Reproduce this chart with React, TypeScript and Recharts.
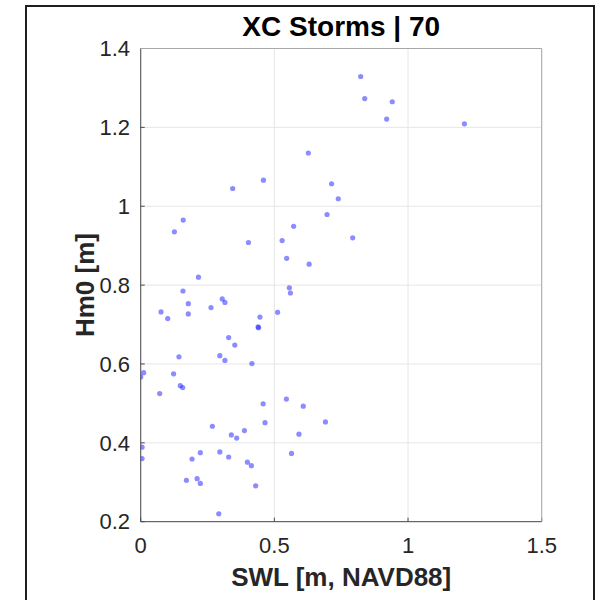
import { CartesianGrid, Scatter, ScatterChart, XAxis, YAxis } from 'recharts'

// storm water level vs significant wave height, 70 storms
const swl = [
  0.627, 0.344, 0.459, 0.714, 0.739, 0.697, 0.572, 0.159, 0.126, 0.529,
  0.823, 0.838, 0.941, 0.92, 1.211, 0.793, 0.403, 0.546, 0.63, 0.216,
  0.158, 0.556, 0.56, 0.178, 0.305, 0.315, 0.263, 0.076, 0.101, 0.178,
  0.512, 0.446, 0.439, 0.441, 0.329, 0.352, 0.143, 0.296, 0.315, 0.416,
  0.011, 0.0, 0.123, 0.148, 0.157, 0.071, 0.545, 0.458, 0.608, 0.268,
  0.465, 0.691, 0.388, 0.339, 0.359, 0.592, 0.005, 0.005, 0.223, 0.296,
  0.192, 0.329, 0.564, 0.399, 0.414, 0.171, 0.211, 0.223, 0.43, 0.292,
]
const hm0 = [
  1.135, 1.045, 1.066, 1.057, 1.019, 0.979, 0.949, 0.965, 0.935, 0.913,
  1.329, 1.273, 1.265, 1.221, 1.209, 0.92, 0.908, 0.868, 0.853, 0.82,
  0.785, 0.793, 0.78, 0.753, 0.765, 0.756, 0.743, 0.732, 0.715, 0.727,
  0.731, 0.719, 0.694, 0.692, 0.667, 0.648, 0.618, 0.621, 0.609, 0.601,
  0.578, 0.567, 0.575, 0.545, 0.54, 0.525, 0.511, 0.499, 0.493, 0.442,
  0.451, 0.453, 0.431, 0.42, 0.412, 0.422, 0.389, 0.36, 0.375, 0.377,
  0.359, 0.364, 0.373, 0.351, 0.342, 0.305, 0.309, 0.297, 0.291, 0.22,
]

const xTicks = [0, 0.5, 1, 1.5]
const xMinorTicks = [0, 0.1, 0.2, 0.3, 0.4, 0.5, 0.6, 0.7, 0.8, 0.9, 1, 1.1, 1.2, 1.3, 1.4, 1.5]
const yTicks = [0.2, 0.4, 0.6, 0.8, 1, 1.2, 1.4]
const yMinorTicks = [
  0.2, 0.25, 0.3, 0.35, 0.4, 0.45, 0.5, 0.55, 0.6, 0.65, 0.7, 0.75, 0.8,
  0.85, 0.9, 0.95, 1, 1.05, 1.1, 1.15, 1.2, 1.25, 1.3, 1.35, 1.4,
]

const points = swl.map((x, i) => ({ x, y: hm0[i] }))

const font = '"Liberation Sans", Arial, sans-serif'
const dark = '#4a4a4a'
const light = '#a8a8a8'
const tickText = { fill: '#262626', fontSize: 22, fontFamily: font }
const xDomain: [number, number] = [0, 1.5]
const yDomain: [number, number] = [0.2, 1.4]
const thin = 0.01 // axes must have some size or recharts skips them

function Dot(props: any) {
  return <circle cx={props.cx} cy={props.cy} r={2.6} fill="#1a1aff" fillOpacity={0.5} />
}

export default function App() {
  return (
    <div
      style={{
        position: 'absolute',
        left: 0,
        top: 0,
        width: 603,
        height: 600,
        overflow: 'hidden',
        background: '#fff',
        fontFamily: font,
      }}
    >
      <div
        style={{
          position: 'absolute',
          left: 25,
          top: 5,
          width: 566,
          height: 600,
          border: '2px solid #1e1e1e',
        }}
      />
      <div style={{ position: 'absolute', left: 0, top: 0 }}>
        <ScatterChart
          width={603}
          height={600}
          margin={{ top: 48.5, right: 61.3, bottom: 78.3, left: 140.7 }}
        >
          <CartesianGrid stroke="#e6e6e6" strokeWidth={1} />
          {/* major axes with labels */}
          <XAxis
            type="number"
            dataKey="x"
            domain={xDomain}
            allowDataOverflow
            ticks={xTicks}
            interval={0}
            height={thin}
            axisLine={{ stroke: dark }}
            tickLine={{ stroke: dark }}
            tickSize={-4}
            tickMargin={20}
            tick={tickText}
            label={{
              value: 'SWL [m, NAVD88]',
              position: 'bottom',
              offset: 46,
              fill: '#262626',
              fontSize: 26,
              fontWeight: 'bold',
              fontFamily: font,
            }}
          />
          <YAxis
            type="number"
            dataKey="y"
            domain={yDomain}
            allowDataOverflow
            ticks={yTicks}
            interval={0}
            width={thin}
            axisLine={{ stroke: dark }}
            tickLine={{ stroke: dark }}
            tickSize={-4}
            tickMargin={14.7}
            tick={tickText}
            label={{
              value: 'Hm0 [m]',
              angle: -90,
              position: 'left',
              offset: 55.7,
              fill: '#262626',
              fontSize: 26,
              fontWeight: 'bold',
              fontFamily: font,
              style: { textAnchor: 'middle' },
            }}
          />
          {/* minor ticks, drawn inward on all four sides */}
          <XAxis
            xAxisId="bm"
            type="number"
            dataKey="x"
            domain={xDomain}
            allowDataOverflow
            ticks={xMinorTicks}
            interval={0}
            height={thin}
            axisLine={false}
            tick={false}
            tickSize={-2.5}
            tickLine={{ stroke: dark }}
          />
          <XAxis
            xAxisId="tm"
            orientation="top"
            type="number"
            dataKey="x"
            domain={xDomain}
            allowDataOverflow
            ticks={xMinorTicks}
            interval={0}
            height={thin}
            axisLine={{ stroke: light }}
            tick={false}
            tickSize={-2.5}
            tickLine={{ stroke: dark }}
            label={{
              value: 'XC Storms | 70',
              position: 'top',
              offset: 12.5,
              fill: '#000',
              fontSize: 28,
              fontWeight: 'bold',
              fontFamily: font,
            }}
          />
          <YAxis
            yAxisId="lm"
            type="number"
            dataKey="y"
            domain={yDomain}
            allowDataOverflow
            ticks={yMinorTicks}
            interval={0}
            width={thin}
            axisLine={false}
            tick={false}
            tickSize={-2.5}
            tickLine={{ stroke: dark }}
          />
          <YAxis
            yAxisId="rm"
            orientation="right"
            type="number"
            dataKey="y"
            domain={yDomain}
            allowDataOverflow
            ticks={yMinorTicks}
            interval={0}
            width={thin}
            axisLine={{ stroke: light }}
            tick={false}
            tickSize={-2.5}
            tickLine={{ stroke: dark }}
          />
          <Scatter data={points} shape={<Dot />} isAnimationActive={false} />
        </ScatterChart>
      </div>
    </div>
  )
}
